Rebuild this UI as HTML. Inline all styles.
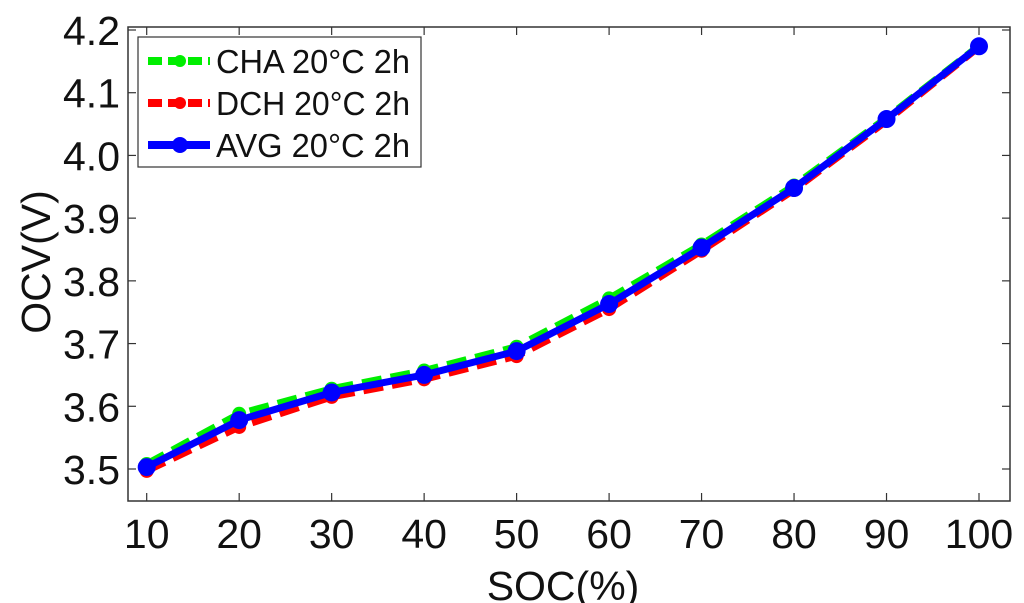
<!DOCTYPE html>
<html><head><meta charset="utf-8"><style>
html,body{margin:0;padding:0;background:#fff;width:1024px;height:603px;overflow:hidden}
svg text{font-family:"Liberation Sans",sans-serif;fill:#111}
</style></head><body>
<svg id="chart" width="1024" height="603" xmlns="http://www.w3.org/2000/svg"></svg>
<script>
const soc = [10,20,30,40,50,60,70,80,90,100];
const cha = [3.508,3.588,3.628,3.657,3.695,3.772,3.858,3.952,4.060,4.175];
const dch = [3.497,3.567,3.615,3.643,3.680,3.755,3.848,3.945,4.055,4.173];
const avg = [3.503,3.578,3.622,3.650,3.688,3.763,3.853,3.948,4.058,4.174];
const yTicks = [3.5,3.6,3.7,3.8,3.9,4.0,4.1,4.2];
const xTicks = [10,20,30,40,50,60,70,80,90,100];
const seriesNames = ["CHA 20\u00B0C 2h","DCH 20\u00B0C 2h","AVG 20\u00B0C 2h"];

const svg = document.getElementById('chart');
const NS = 'http://www.w3.org/2000/svg';
const L=128,R=1010,T=27,B=501;
const xs = v => 146.7 + (v-10)*(979-146.7)/90;
const ys = v => 469 - (v-3.5)*(469-30)/0.7;
function mk(tag, attrs, parent){const e=document.createElementNS(NS,tag);for(const k in attrs)e.setAttribute(k,attrs[k]);(parent||svg).appendChild(e);return e;}

const axes = mk('g',{});


mk('rect',{x:L,y:T,width:R-L,height:B-T,fill:'none',stroke:'#333','stroke-width':1.5},axes);
xTicks.forEach(t=>{
  const x=xs(t);
  mk('line',{x1:x,x2:x,y1:B,y2:B-8,stroke:'#333','stroke-width':1.2},axes);
  mk('line',{x1:x,x2:x,y1:T,y2:T+8,stroke:'#333','stroke-width':1.2},axes);
  const tx=mk('text',{x:x,y:B+47,'font-size':41,'text-anchor':'middle'},axes);
  tx.textContent=t;
  
  
});
yTicks.forEach(t=>{
  const y=ys(t);
  mk('line',{x1:L,x2:L+8,y1:y,y2:y,stroke:'#333','stroke-width':1.2},axes);
  mk('line',{x1:R,x2:R-8,y1:y,y2:y,stroke:'#333','stroke-width':1.2},axes);
  const tx=mk('text',{x:L-8,y:y+15,'font-size':41,'text-anchor':'end'},axes);
  tx.textContent=t.toFixed(1);
  
  
});
const xt=mk('text',{x:563,y:600,'font-size':41,'text-anchor':'middle'});
xt.textContent='SOC(%)';


const yt=mk('text',{x:0,y:0,'font-size':41,'text-anchor':'middle',transform:'translate(50,262) rotate(-90)'});
yt.textContent='OCV(V)';



function series(vals,color,dash,w,r,name){
  const g=mk('g',{});
  
  
  const pts=vals.map((v,i)=>xs(soc[i])+','+ys(v)).join(' ');
  const a={points:pts,fill:'none',stroke:color,'stroke-width':w,'stroke-linejoin':'round'};
  if(dash)a['stroke-dasharray']=dash;
  mk('polyline',a,g);
  vals.forEach((v,i)=>{
    const c=mk('circle',{cx:xs(soc[i]),cy:ys(v),r:r,fill:color},g);
    
    
  });
}
series(cha,'#00ee00','20 9',7,7,'series-cha');
series(dch,'#ff0000','20 9',7,7,'series-dch');
series(avg,'#0000ff',null,7,9,'series-avg');

const lg=mk('g',{});


mk('rect',{x:138,y:37,width:283,height:130,fill:'#fff',stroke:'#333','stroke-width':1.2},lg);
const cols=['#00ee00','#ff0000','#0000ff'];
seriesNames.forEach((n,i)=>{
  const y=61+i*42;
  const ent=mk('g',{},lg);
  
  
  const a={x1:148,x2:210,y1:y,y2:y,stroke:cols[i],'stroke-width':8};
  if(i<2)a['stroke-dasharray']='14 6';
  mk('line',a,ent);
  mk('circle',{cx:180,cy:y,r:i<2?6:8,fill:cols[i]},ent);
  const t=mk('text',{x:216,y:y+12,'font-size':33,textLength:194,lengthAdjust:'spacingAndGlyphs'},ent);
  t.textContent=n;
});
</script>
</body></html>
